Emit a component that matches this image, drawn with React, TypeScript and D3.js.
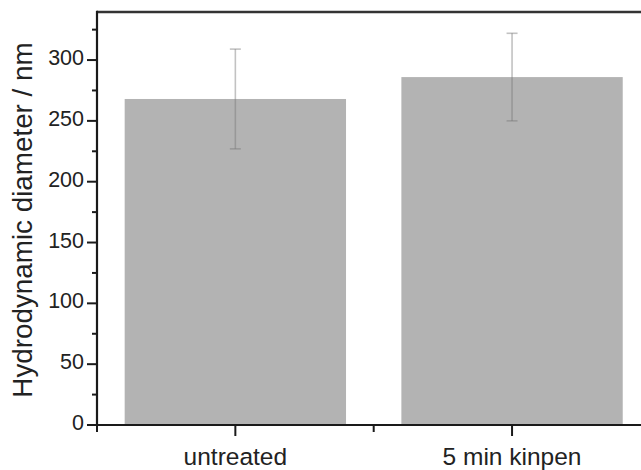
import React from "react";
import * as d3 from "d3";

const categories = ["untreated", "5 min kinpen"];
const meanValues = [268, 286];
const errorValues = [41, 36];
const majorTicks = [0, 50, 100, 150, 200, 250, 300];
const minorTicks = [25, 75, 125, 175, 225, 275, 325];

const W = 641;
const H = 470;
const left = 97;
const top = 12;
const bottom = 425;
const rightEnd = 650.4;

export default function App() {
  const y = d3.scaleLinear().domain([0, 339.5]).range([bottom, top]);
  const x = d3
    .scaleBand<string>()
    .domain(categories)
    .range([left, rightEnd])
    .paddingInner(0.2)
    .paddingOuter(0.1);
  const step = x.step();
  const center = (c: string) => (x(c) as number) + x.bandwidth() / 2;
  const boundaries = [0, 1, 2].map((i) => left + i * step);
  const axisColor = "#1a1a1a";
  const font = "'Liberation Sans', Arial, sans-serif";

  return (
    <svg
      width={W}
      height={H}
      style={{ position: "absolute", left: 0, top: 0, background: "#fff" }}
      fontFamily={font}
    >
      <rect width={W} height={H} fill="#fff" />
      {categories.map((c, i) => (
        <rect
          key={c}
          x={x(c)}
          y={y(meanValues[i])}
          width={x.bandwidth()}
          height={bottom - y(meanValues[i])}
          fill="#b3b3b3"
        />
      ))}
      {categories.map((c, i) => {
        const cx = center(c);
        const hi = y(meanValues[i] + errorValues[i]);
        const lo = y(meanValues[i] - errorValues[i]);
        const st = "rgba(120,120,120,0.45)";
        return (
          <g key={c + "err"} stroke={st} strokeWidth={1.6}>
            <line x1={cx} x2={cx} y1={hi} y2={lo} />
            <line x1={cx - 5.5} x2={cx + 5.5} y1={hi} y2={hi} />
            <line x1={cx - 5.5} x2={cx + 5.5} y1={lo} y2={lo} />
          </g>
        );
      })}
      {/* frame */}
      <line x1={left} x2={W} y1={top} y2={top} stroke="#333" strokeWidth={2.6} />
      <line x1={left} x2={left} y1={top - 1.3} y2={bottom} stroke={axisColor} strokeWidth={2.2} />
      <line x1={left - 1} x2={W} y1={bottom} y2={bottom} stroke={axisColor} strokeWidth={2.2} />
      {/* y ticks */}
      {majorTicks.map((t) => (
        <g key={"mj" + t}>
          <line x1={left - 10} x2={left} y1={y(t)} y2={y(t)} stroke={axisColor} strokeWidth={2} />
          <text
            x={left - 13}
            y={y(t) + 5}
            fontSize={21.5}
            textAnchor="end"
            fill="#222"
          >
            {t}
          </text>
        </g>
      ))}
      {minorTicks.map((t) => (
        <line key={"mn" + t} x1={left - 5} x2={left} y1={y(t)} y2={y(t)} stroke={axisColor} strokeWidth={2} />
      ))}
      {/* x ticks */}
      {categories.map((c) => (
        <g key={c + "tick"}>
          <line x1={center(c)} x2={center(c)} y1={bottom} y2={bottom + 11} stroke={axisColor} strokeWidth={2} />
          <text x={center(c)} y={465} fontSize={24.5} textAnchor="middle" fill="#222">
            {c}
          </text>
        </g>
      ))}
      {boundaries.map((b, i) => (
        <line key={"b" + i} x1={b} x2={b} y1={bottom} y2={bottom + 7} stroke={axisColor} strokeWidth={2} />
      ))}
      <text
        transform={`translate(32,220) rotate(-90)`}
        fontSize={27.8}
        textAnchor="middle"
        fill="#222"
      >
        Hydrodynamic diameter / nm
      </text>
    </svg>
  );
}
